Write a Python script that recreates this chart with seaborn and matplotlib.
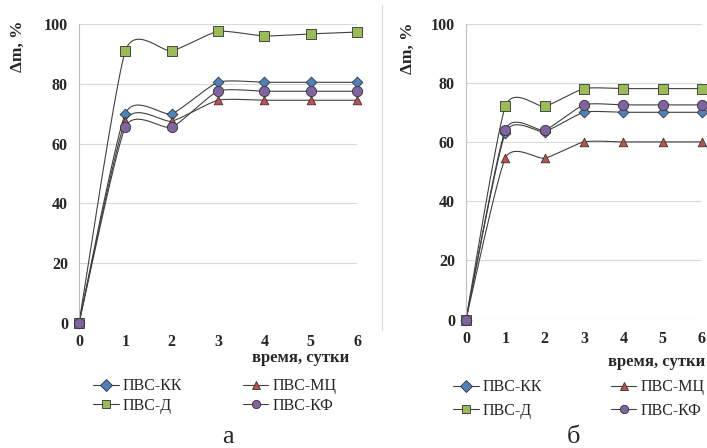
import numpy as np
import pandas as pd
import matplotlib.pyplot as plt
import seaborn as sns
from matplotlib.lines import Line2D

# Data (days vs mass gain, %)
days = [0, 1, 2, 3, 4, 5, 6]
series_names = ['ПВС-КК', 'ПВС-МЦ', 'ПВС-Д', 'ПВС-КФ']

# panel а
a_kk = [0, 70, 70, 80.5, 80.5, 80.5, 80.5]
a_mc = [0, 67.5, 67.5, 74.5, 74.5, 74.5, 74.5]
a_d = [0, 91, 91, 97.5, 96, 96.7, 97.3]
a_kf = [0, 65.5, 65.5, 77.5, 77.5, 77.5, 77.5]

# panel б
b_kk = [0, 63, 63.5, 70, 70, 70, 70]
b_mc = [0, 54.5, 54.5, 60, 60, 60, 60]
b_d = [0, 72, 72, 78, 78, 78, 78]
b_kf = [0, 64, 64, 72.5, 72.5, 72.5, 72.5]

colors = {'ПВС-КК': '#4F81BD', 'ПВС-МЦ': '#C0504D', 'ПВС-Д': '#9BBB59', 'ПВС-КФ': '#8064A2'}
markers = {'ПВС-КК': 'D', 'ПВС-МЦ': '^', 'ПВС-Д': 's', 'ПВС-КФ': 'o'}
sizes = {'ПВС-КК': 30, 'ПВС-МЦ': 38, 'ПВС-Д': 44, 'ПВС-КФ': 55}

sns.set_style('white')
plt.rcParams['font.family'] = ['Liberation Serif', 'DejaVu Serif']


def smooth(x, y, n=30, k=0.1):
    # smoothed line like in Excel: bezier segments through the points
    x = np.asarray(x, float)
    y = np.asarray(y, float)
    px = np.concatenate([[x[0]], x, [x[-1]]])
    py = np.concatenate([[y[0]], y, [y[-1]]])
    xs, ys = [], []
    t = np.linspace(0, 1, n)
    for i in range(1, len(px) - 2):
        p0 = np.array([px[i], py[i]])
        p3 = np.array([px[i + 1], py[i + 1]])
        c1 = p0 + (np.array([px[i + 1], py[i + 1]]) - np.array([px[i - 1], py[i - 1]])) * k
        c2 = p3 - (np.array([px[i + 2], py[i + 2]]) - np.array([px[i], py[i]])) * k
        b = (np.outer((1 - t) ** 3, p0) + np.outer(3 * (1 - t) ** 2 * t, c1)
             + np.outer(3 * (1 - t) * t ** 2, c2) + np.outer(t ** 3, p3))
        xs.extend(b[:, 0])
        ys.extend(b[:, 1])
    return xs, ys


def draw_panel(ax, values):
    rows = []
    for name, vals in zip(series_names, values):
        for d, v in zip(days, vals):
            rows.append({'day': d, 'dm': v, 'series': name})
    df = pd.DataFrame(rows)

    for name, vals in zip(series_names, values):
        sx, sy = smooth(days, vals)
        ax.plot(sx, sy, color='#404040', lw=0.8, zorder=2)

    for name in series_names:
        sub = df[df['series'] == name]
        sns.scatterplot(data=sub, x='day', y='dm', ax=ax, color=colors[name],
                        marker=markers[name], s=sizes[name], edgecolor='#333333',
                        linewidth=0.6, zorder=3, legend=False, clip_on=False)

    ax.set_xlim(0, 6)
    ax.set_ylim(0, 100)
    ax.set_yticks([0, 20, 40, 60, 80, 100])
    ax.set_xticks(days)
    ax.grid(axis='y', color='#D9D9D9', lw=0.8)
    ax.set_axisbelow(True)
    for s in ['top', 'right', 'bottom']:
        ax.spines[s].set_visible(False)
    ax.spines['left'].set_color('#BFBFBF')
    ax.spines['left'].set_linewidth(0.8)
    ax.tick_params(axis='both', length=0, labelsize=11.5)
    ax.tick_params(axis='x', pad=8)
    ax.tick_params(axis='y', pad=8)
    for lab in ax.get_xticklabels() + ax.get_yticklabels():
        lab.set_fontweight('bold')
    ax.set_xlabel('')
    ax.set_ylabel('')


fig = plt.figure(figsize=(7.07, 4.48), dpi=100)
ax1 = fig.add_axes([79 / 707, 1 - 323 / 448, 278 / 707, 299 / 448])
ax2 = fig.add_axes([466 / 707, 1 - 319.5 / 448, 236 / 707, 296 / 448])

draw_panel(ax1, [a_kk, a_mc, a_d, a_kf])
draw_panel(ax2, [b_kk, b_mc, b_d, b_kf])

# axis titles
fig.text(18 / 707, 1 - 46 / 448, 'Δm, %', rotation=90, ha='center', va='center',
         fontsize=12.5, fontweight='bold')
fig.text(408 / 707, 1 - 48 / 448, 'Δm, %', rotation=90, ha='center', va='center',
         fontsize=12.5, fontweight='bold')
fig.text(349 / 707, 1 - 358 / 448, 'время, сутки', ha='right', va='center',
         fontsize=12, fontweight='bold')
fig.text(705 / 707, 1 - 362 / 448, 'время, сутки', ha='right', va='center',
         fontsize=12, fontweight='bold')

# legends
handles = [Line2D([0], [0], color='#404040', lw=0.8, marker=markers[n],
                  markerfacecolor=colors[n], markeredgecolor='#333333',
                  markeredgewidth=0.6, markersize=6) for n in series_names]
order = [0, 2, 1, 3]
fig.legend([handles[i] for i in order], [series_names[i] for i in order],
           ncol=2, frameon=False, fontsize=11.5, handlelength=1.6, handletextpad=0.25,
           columnspacing=3.8, labelspacing=0.2, borderpad=0, borderaxespad=0,
           loc='center left', bbox_to_anchor=(93 / 707, 1 - 396 / 448))
fig.legend([handles[i] for i in order], [series_names[i] for i in order],
           ncol=2, frameon=False, fontsize=11.5, handlelength=1.6, handletextpad=0.25,
           columnspacing=4.3, labelspacing=0.45, borderpad=0, borderaxespad=0,
           loc='center left', bbox_to_anchor=(453 / 707, 1 - 399 / 448))

# panel letters
fig.text(228 / 707, 1 - 437 / 448, 'а', ha='center', va='center', fontsize=19)
fig.text(574 / 707, 1 - 437 / 448, 'б', ha='center', va='center', fontsize=19)

# chart frame separator
fig.add_artist(Line2D([382 / 707, 382 / 707], [1 - 5 / 448, 1 - 330 / 448],
                      color='#D9D9D9', lw=0.8))

fig.savefig('out.png', dpi=100)
